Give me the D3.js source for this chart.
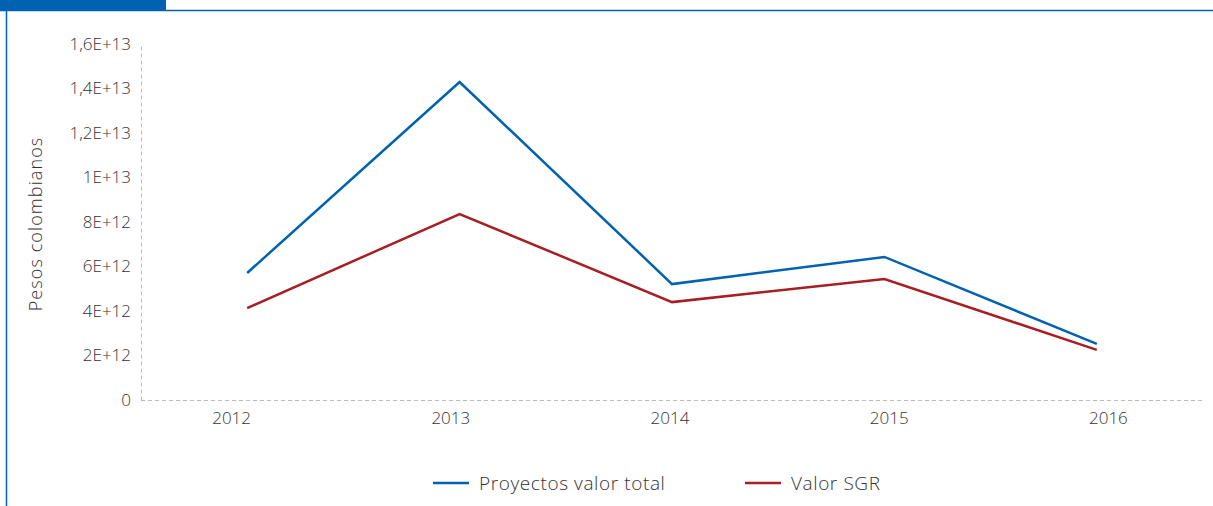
<!DOCTYPE html>
<html>
<head>
    <title>Proyectos SGR</title>
    <style>
        body { margin: 0; background: #fff; }
        text { font-family: "Open Sans", Lato, sans-serif; font-weight: 300; fill: #333; }
    </style>
</head>
<body>
<script src="https://d3js.org/d3.v7.min.js"></script>
<script>
    var width = 1213,
        height = 506;

    var years = ['2012', '2013', '2014', '2015', '2016'];
    var totalValues = [5.71e12, 14.29e12, 5.21e12, 6.43e12, 2.52e12]; // Proyectos valor total
    var sgrValues = [4.13e12, 8.36e12, 4.40e12, 5.44e12, 2.25e12]; // Valor SGR
    var yTicks = [0, 2e12, 4e12, 6e12, 8e12, 1e13, 1.2e13, 1.4e13, 1.6e13];
    var yTickLabels = ['0', '2E+12', '4E+12', '6E+12', '8E+12', '1E+13', '1,2E+13', '1,4E+13', '1,6E+13'];
    var seriesNames = ['Proyectos valor total', 'Valor SGR'];
    var seriesColors = ['#0062b1', '#a71e24'];

    var margin = {left: 141, right: 10, top: 44, bottom: 106};

    var svg = d3.select('body').append('svg')
            .attr('width', width)
            .attr('height', height);

    // frame: tab + thin blue rule
    svg.append('rect').attr('x', 0).attr('y', 0).attr('width', 166).attr('height', 10).attr('fill', '#0062b1');
    svg.append('line').attr('x1', 0).attr('x2', width).attr('y1', 10.5).attr('y2', 10.5)
            .attr('stroke', '#0062b1').attr('stroke-width', 1.5);
    svg.append('line').attr('x1', 6.5).attr('x2', 6.5).attr('y1', 10).attr('y2', height)
            .attr('stroke', '#0062b1').attr('stroke-width', 1.5);

    var x = d3.scaleBand()
            .domain(years)
            .range([margin.left, width - margin.right]);

    // category labels sit on a slightly wider spacing than the plotted points
    var xLabel = d3.scaleBand()
            .domain(years)
            .range([122, 1218]);

    var y = d3.scaleLinear()
            .domain([0, 1.6e13])
            .range([height - margin.bottom, margin.top]);

    var yAxis = svg.append('g')
            .attr('transform', 'translate(' + margin.left + ',0)')
            .call(d3.axisLeft(y).tickValues(yTicks).tickSize(0).tickPadding(10)
                .tickFormat(function (d, i) { return yTickLabels[i]; }));
    yAxis.select('.domain').attr('stroke', '#bdbdbd').attr('stroke-dasharray', '4,3');
    yAxis.selectAll('text').style('font-size', '17px').attr('fill', '#333');

    var xAxis = svg.append('g')
            .attr('transform', 'translate(0,' + (height - margin.bottom) + ')')
            .call(d3.axisBottom(xLabel).tickSize(0).tickPadding(12));
    xAxis.select('.domain').remove();
    xAxis.selectAll('text').style('font-size', '17px').attr('fill', '#333');

    svg.append('line')
            .attr('x1', x.range()[0]).attr('x2', x.range()[1])
            .attr('y1', y(0) + 0.5).attr('y2', y(0) + 0.5)
            .attr('stroke', '#bdbdbd').attr('stroke-dasharray', '4,3');

    svg.append('text')
            .attr('transform', 'translate(42,' + 224 + ') rotate(-90)')
            .attr('text-anchor', 'middle')
            .style('font-size', '18px')
            .style('letter-spacing', '1.1px')
            .text('Pesos colombianos');

    var line = d3.line()
            .x(function (d, i) { return x(years[i]) + x.bandwidth() / 2; })
            .y(function (d) { return y(d); });

    [totalValues, sgrValues].forEach(function (vals, k) {
        svg.append('path')
                .datum(vals)
                .attr('fill', 'none')
                .attr('stroke', seriesColors[k])
                .attr('stroke-width', 2.5)
                .attr('d', line);
    });

    // legend
    var legendX = [433, 745];
    seriesNames.forEach(function (name, k) {
        var g = svg.append('g').attr('transform', 'translate(' + legendX[k] + ',483)');
        g.append('line').attr('x1', 0).attr('x2', 36).attr('y1', 0).attr('y2', 0)
                .attr('stroke', seriesColors[k]).attr('stroke-width', 2.5);
        g.append('text').attr('x', 46).attr('dy', '0.35em')
                .style('font-size', '19px')
                .style('letter-spacing', '0.6px')
                .text(name);
    });
</script>
</body>
</html>
